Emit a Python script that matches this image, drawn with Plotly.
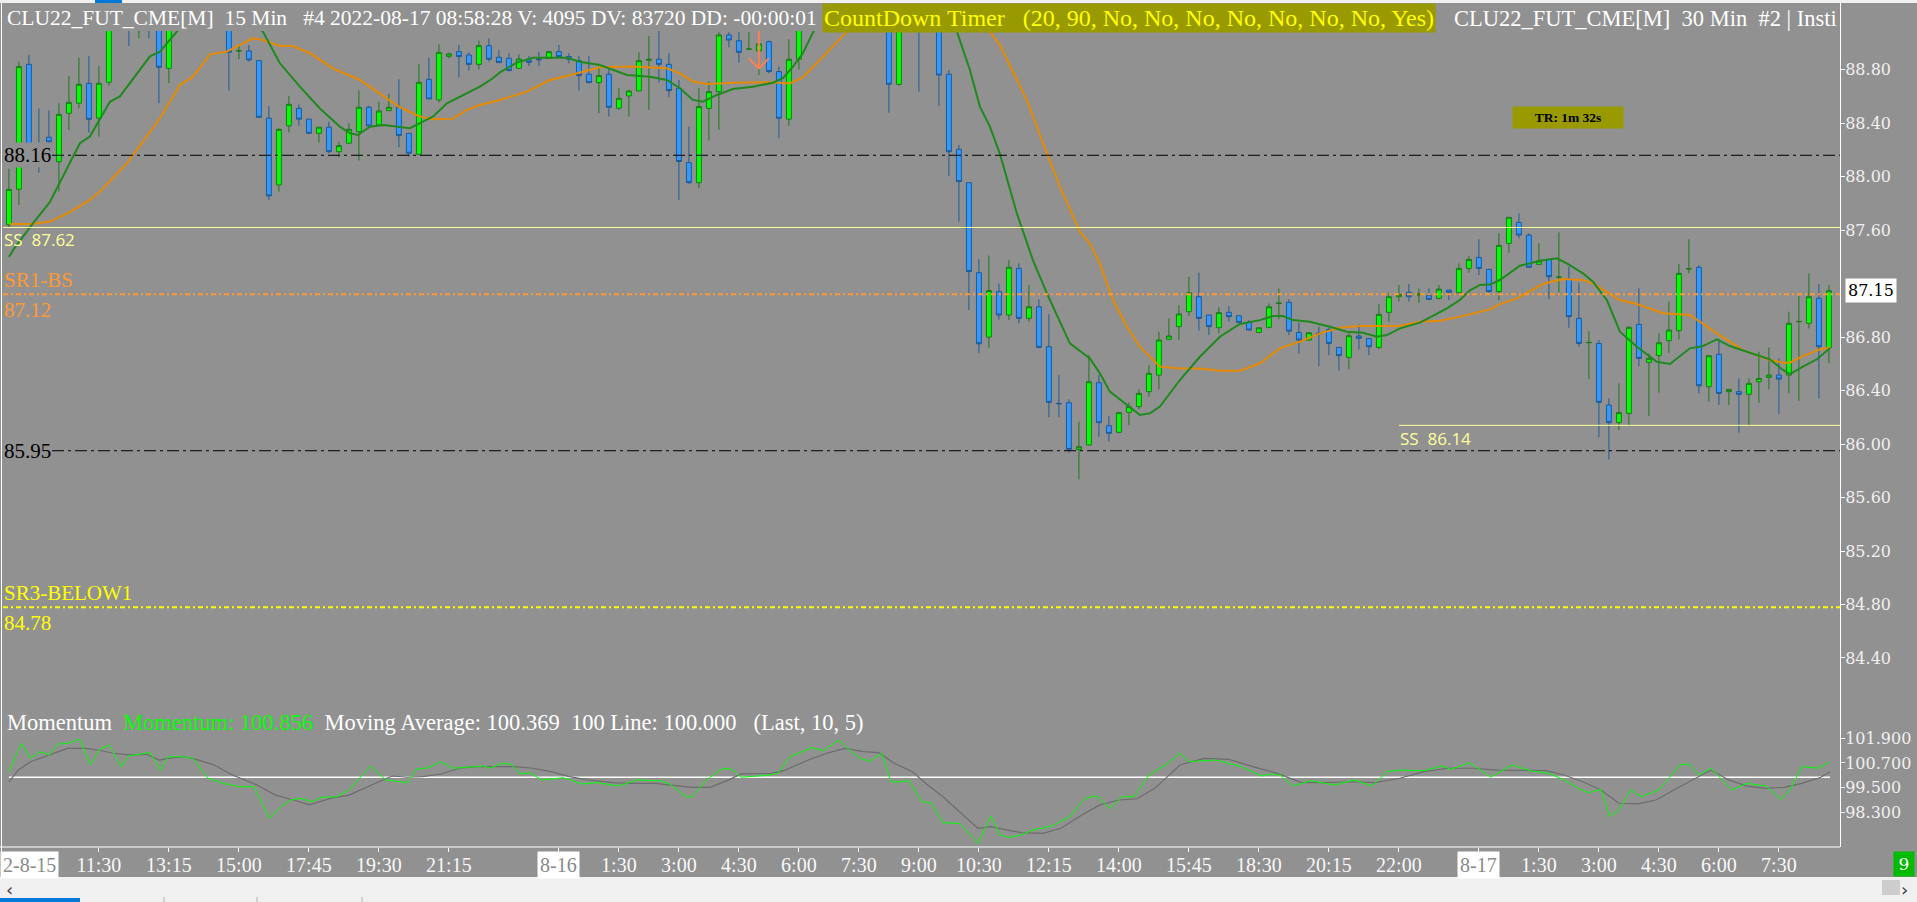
import plotly.graph_objects as go

# ---------------- data ----------------
BAR = list(range(-9, 174))   # bar index, 0 = 11:30 on 8-15 (15-min bars)

OPEN = [87.64, 87.906, 88.84, 88.20, 88.295, 88.112, 88.474, 88.549, 88.698, 88.437,
        88.706, 89.25, 89.42, 89.30, 89.35, 89.22, 88.81, 89.20, 89.35, 89.28,
        89.33, 89.22, 89.18, 88.94, 88.94, 88.868, 88.437, 87.938, 88.38, 88.511,
        88.43, 88.324, 88.37, 88.187, 88.25, 88.337, 88.519, 88.387, 88.494, 88.519,
        88.324, 88.167, 88.728, 88.574, 88.90, 88.935, 88.91, 88.84, 88.98, 88.893,
        88.885, 88.81, 88.873, 88.88, 88.885, 88.935, 88.898, 88.868, 88.766, 88.703,
        88.766, 88.512, 88.604, 88.641, 88.87, 88.878, 88.84, 88.661, 88.105, 87.955,
        88.511, 88.636, 89.06, 89.017, 88.953, 88.94, 89.01, 88.786, 88.43, 88.878,
        89.20, 89.40, 89.65, 89.55, 89.70, 89.80, 89.60, 89.50, 89.40, 88.691,
        89.30, 89.25, 89.15, 89.20, 88.766, 88.205, 87.955, 87.282, 86.80, 87.14,
        86.965, 87.314, 86.94, 87.027, 86.728, 86.304, 86.309, 85.96, 85.993, 86.459,
        86.137, 86.088, 86.237, 86.28, 86.392, 86.516, 86.783, 86.878, 86.99, 87.102,
        86.965, 86.87, 86.985, 86.96, 86.91, 86.835, 86.873, 87.052, 87.06, 86.835,
        86.778, 86.83, 86.858, 86.723, 86.648, 86.808, 86.79, 86.723, 86.985, 87.102,
        87.135, 87.115, 87.11, 87.09, 87.152, 87.132, 87.314, 87.396, 87.307, 87.14,
        87.501, 87.658, 87.563, 87.344, 87.381, 87.247, 87.234, 86.94, 86.758, 86.753,
        86.292, 86.16, 86.229, 86.895, 86.611, 86.661, 86.773, 86.848, 87.309, 87.322,
        86.429, 86.671, 86.392, 86.392, 86.372, 86.466, 86.499, 86.516, 86.516, 86.915,
        86.903, 87.09, 86.72]

HIGH = [88.06, 88.86, 88.91, 88.51, 88.494, 88.549, 88.753, 88.89, 88.903, 88.828,
        89.30, 89.50, 89.50, 89.40, 89.42, 89.28, 89.25, 89.40, 89.45, 89.40,
        89.38, 89.30, 89.25, 88.985, 88.985, 88.87, 88.529, 88.362, 88.604, 88.54,
        88.43, 88.37, 88.412, 88.262, 88.40, 88.644, 88.53, 88.56, 88.619, 88.728,
        88.324, 88.843, 88.89, 88.99, 88.928, 88.985, 88.93, 89.017, 89.035, 88.947,
        88.923, 88.915, 88.903, 88.935, 88.94, 88.985, 88.923, 88.903, 88.903, 88.823,
        88.81, 88.661, 88.649, 88.93, 89.052, 89.15, 88.923, 88.723, 88.374, 88.661,
        88.711, 89.08, 89.08, 89.08, 89.08, 89.08, 89.018, 88.823, 89.027, 89.25,
        89.45, 89.70, 89.80, 89.75, 89.90, 89.85, 89.75, 89.60, 89.45, 89.35,
        89.45, 89.35, 89.30, 89.25, 88.798, 88.237, 87.955, 87.382, 87.41, 87.20,
        87.376, 87.351, 87.19, 87.082, 86.972, 86.516, 86.334, 86.167, 86.666, 86.516,
        86.21, 86.235, 86.31, 86.409, 86.591, 86.84, 86.94, 87.04, 87.252, 87.282,
        86.965, 87.022, 87.032, 86.96, 86.928, 86.87, 87.052, 87.164, 87.082, 86.908,
        86.833, 86.878, 86.87, 86.723, 86.833, 86.895, 86.79, 87.047, 87.132, 87.19,
        87.197, 87.164, 87.164, 87.19, 87.152, 87.351, 87.406, 87.531, 87.307, 87.576,
        87.696, 87.725, 87.576, 87.501, 87.381, 87.583, 87.327, 87.207, 86.845, 86.778,
        86.342, 86.454, 86.883, 87.164, 86.678, 86.828, 87.065, 87.347, 87.531, 87.339,
        86.661, 86.783, 86.409, 86.491, 86.491, 86.691, 86.723, 86.641, 86.99, 87.107,
        87.277, 87.197, 87.19]

LOW = [87.62, 87.789, 88.17, 88.03, 88.20, 87.888, 88.349, 88.51, 88.33, 88.30,
       88.68, 89.20, 88.977, 89.035, 89.035, 88.549, 88.70, 89.15, 89.20, 89.18,
       89.15, 89.12, 88.643, 88.878, 88.86, 88.44, 87.826, 87.888, 88.33, 88.38,
       88.324, 88.255, 88.175, 88.145, 88.25, 88.12, 88.374, 88.38, 88.49, 88.22,
       88.15, 88.167, 88.58, 88.554, 88.885, 88.743, 88.793, 88.803, 88.86, 88.85,
       88.79, 88.81, 88.828, 88.828, 88.88, 88.895, 88.848, 88.644, 88.70, 88.474,
       88.449, 88.50, 88.449, 88.641, 88.50, 88.703, 88.594, 87.826, 87.946, 87.913,
       88.27, 88.35, 88.968, 88.853, 88.95, 88.76, 88.773, 88.287, 88.38, 88.80,
       89.15, 89.35, 89.50, 89.45, 89.60, 89.55, 89.45, 89.30, 88.479, 88.68,
       89.20, 88.636, 89.10, 88.529, 88.005, 87.664, 87.003, 86.68, 86.72, 86.93,
       86.928, 86.903, 86.915, 86.716, 86.20, 86.20, 85.935, 85.736, 85.99, 86.055,
       86.018, 86.08, 86.142, 86.26, 86.354, 86.409, 86.778, 86.778, 86.958, 86.848,
       86.815, 86.828, 86.915, 86.91, 86.848, 86.835, 86.865, 86.933, 86.815, 86.678,
       86.773, 86.584, 86.666, 86.549, 86.559, 86.708, 86.666, 86.708, 86.915, 87.065,
       87.065, 87.057, 87.077, 87.082, 87.077, 87.127, 87.282, 87.264, 87.132, 87.077,
       87.431, 87.538, 87.322, 87.339, 87.085, 87.135, 86.87, 86.728, 86.486, 86.05,
       85.886, 86.105, 86.142, 86.584, 86.21, 86.384, 86.683, 86.783, 87.277, 86.379,
       86.317, 86.292, 86.292, 86.085, 86.142, 86.309, 86.409, 86.225, 86.379, 86.324,
       86.865, 86.342, 86.604]

CLOSE = [87.905, 88.823, 88.20, 88.12, 88.26, 88.466, 88.556, 88.691, 88.429, 88.698,
         89.25, 89.42, 89.30, 89.35, 89.22, 88.818, 89.20, 89.35, 89.28, 89.33,
         89.22, 89.18, 88.93, 88.942, 88.873, 88.444, 87.856, 88.354, 88.541, 88.43,
         88.324, 88.37, 88.187, 88.232, 88.354, 88.519, 88.379, 88.491, 88.519, 88.307,
         88.175, 88.706, 88.581, 88.93, 88.918, 88.898, 88.84, 88.98, 88.878, 88.853,
         88.793, 88.88, 88.855, 88.875, 88.935, 88.898, 88.878, 88.756, 88.703, 88.756,
         88.519, 88.586, 88.641, 88.868, 88.878, 88.84, 88.644, 88.113, 87.955, 88.524,
         88.636, 89.06, 89.022, 88.93, 88.955, 88.993, 88.786, 88.437, 88.878, 89.20,
         89.40, 89.65, 89.55, 89.70, 89.80, 89.60, 89.50, 89.40, 88.691, 89.30,
         89.25, 89.15, 89.20, 88.76, 88.187, 87.963, 87.29, 86.75, 87.148, 86.965,
         87.322, 86.94, 87.027, 86.723, 86.312, 86.302, 85.96, 85.98, 86.466, 86.16,
         86.08, 86.235, 86.28, 86.379, 86.529, 86.778, 86.808, 86.973, 87.132, 86.94,
         86.878, 86.983, 86.953, 86.91, 86.853, 86.87, 87.027, 87.054, 86.845, 86.778,
         86.833, 86.826, 86.753, 86.661, 86.81, 86.791, 86.728, 86.97, 87.102, 87.12,
         87.102, 87.122, 87.082, 87.159, 87.135, 87.314, 87.381, 87.314, 87.14, 87.486,
         87.696, 87.563, 87.322, 87.369, 87.252, 87.249, 86.953, 86.753, 86.760, 86.312,
         86.16, 86.235, 86.873, 86.641, 86.641, 86.758, 86.853, 87.277, 87.312, 86.436,
         86.661, 86.379, 86.409, 86.372, 86.454, 86.491, 86.516, 86.486, 86.903, 86.917,
         87.102, 86.728, 87.147]

# fast moving average (green)
MA_FAST_X = [-9, -8.5, -6.6, -4.9, -1.9, -0.9, 1.1, 2.1, 5.1, 6.1,
             7.8, 10, 12, 14, 16.4, 18.1, 20.1, 22.1, 24.1, 25.1,
             25.9, 27.1, 28.5, 29.8, 31.1, 32.4, 33.4, 34.8, 36.1, 38.1,
             39.4, 40.1, 41.8, 43.4, 46.8, 48.1, 50.1, 52.8, 55.1, 56.8,
             58.1, 59.4, 60.4, 61.8, 63.4, 65.4, 67.4, 68.4, 69.4, 70.4,
             71.4, 74, 78, 82, 84.5, 85.8, 87.1, 88.1, 89.1, 90.1,
             91.8, 93.4, 94.8, 97.1, 99.1, 100.1, 101.1, 102.8, 104.1, 105.1,
             106.1, 108.1, 110.1, 112.1, 114.1, 116.1, 117.4, 118.4, 119.4, 121.1,
             123.1, 124.8, 126.4, 127.8, 128.8, 130.1, 132.1, 133.4, 134.8, 136.1,
             137.1, 138.1, 139.1, 140.1, 142.1, 144.1, 145.8, 146.8, 148.4, 149.4,
             150.8, 152.1, 153.8, 155.8, 157.1, 159.1, 160.4, 161.8, 163.1, 165.1,
             167.1, 168.4, 169.1, 170.4, 171.8, 173.1]
MA_FAST_Y = [87.40, 87.46, 87.65, 87.81, 88.25, 88.30, 88.56, 88.60, 88.90, 88.935,
             89.085, 89.25, 89.30, 89.25, 89.085, 88.848, 88.673, 88.51, 88.374, 88.324,
             88.312, 88.374, 88.387, 88.374, 88.362, 88.412, 88.449, 88.549, 88.60, 88.673,
             88.736, 88.78, 88.853, 88.89, 88.89, 88.86, 88.835, 88.761, 88.748, 88.723,
             88.661, 88.574, 88.561, 88.611, 88.656, 88.673, 88.703, 88.736, 88.823, 88.923,
             89.077, 89.40, 89.60, 89.50, 89.25, 89.085, 88.798, 88.524, 88.374, 88.17,
             87.725, 87.376, 87.127, 86.753, 86.641, 86.529, 86.392, 86.292, 86.217, 86.23,
             86.28, 86.479, 86.653, 86.803, 86.898, 86.927, 86.957, 86.957, 86.927, 86.915,
             86.878, 86.84, 86.833, 86.803, 86.815, 86.865, 86.908, 86.958, 87.015, 87.077,
             87.15, 87.19, 87.193, 87.227, 87.334, 87.371, 87.389, 87.351, 87.277, 87.214,
             87.077, 86.84, 86.728, 86.616, 86.599, 86.716, 86.733, 86.783, 86.733, 86.683,
             86.634, 86.554, 86.524, 86.579, 86.634, 86.716]

# slow moving average (orange)
MA_SLOW_X = [-8.9, -6.6, -4.9, -3.0, -0.9, 0.1, 2.8, 6.1, 8.1, 9.4,
             11.1, 12.8, 14.1, 15.4, 16.4, 18.1, 19.4, 21.1, 23.4, 26.1,
             27.8, 30.1, 32.1, 33.4, 35.4, 36.8, 38.1, 40.1, 42.8, 45.1,
             46.8, 48.5, 50.1, 53.4, 56.8, 58.1, 59.4, 60.8, 63.4, 66.8,
             69.1, 70.4, 72.1, 74.8, 78, 82, 86, 89.1, 90.1, 92.8,
             94.8, 96.1, 98.1, 99.1, 100.1, 101.4, 102.8, 104.1, 106.1, 108.1,
             110.1, 112.1, 114.1, 116.1, 118.1, 120.1, 122.1, 124.1, 126.1, 128.1,
             130.1, 132.1, 134.1, 136.1, 138.1, 139.1, 140.1, 141.8, 144.4, 146.4,
             148.4, 149.4, 152.1, 153.8, 156.4, 159.1, 161.8, 164.4, 167.1, 168.4,
             169.1, 170.4, 172.1, 173.1]
MA_SLOW_Y = [87.646, 87.646, 87.664, 87.731, 87.826, 87.888, 88.10, 88.437, 88.686, 88.748,
             88.915, 88.935, 88.985, 89.035, 89.022, 88.977, 88.977, 88.923, 88.81, 88.723,
             88.636, 88.519, 88.449, 88.429, 88.434, 88.499, 88.536, 88.574, 88.636, 88.723,
             88.753, 88.786, 88.818, 88.823, 88.81, 88.773, 88.711, 88.693, 88.703, 88.706,
             88.698, 88.743, 88.873, 89.085, 89.30, 89.40, 89.30, 89.085, 88.985, 88.573,
             88.174, 87.925, 87.588, 87.50, 87.351, 87.077, 86.878, 86.728, 86.579, 86.566,
             86.566, 86.549, 86.549, 86.604, 86.716, 86.766, 86.828, 86.87, 86.883, 86.883,
             86.883, 86.915, 86.923, 86.953, 86.99, 87.007, 87.047, 87.09, 87.197, 87.234,
             87.227, 87.202, 87.077, 87.047, 86.978, 86.965, 86.828, 86.703, 86.629, 86.609,
             86.609, 86.658, 86.708, 86.723]

# momentum panel
MOM_X = [-9.0, -7.75, -6.83, -5.91, -4.99, -4.07, -3.15, -1.93, -0.83, 0.03,
         1.01, 2.23, 2.97, 5.11, 6.15, 6.95, 8.48, 9.4, 10.93, 12.46,
         13.99, 15.52, 17.05, 18.28, 19.2, 20.12, 21.34, 22.26, 23.79, 25.01,
         27.16, 28.69, 30.83, 31.75, 32.98, 34.2, 35.43, 36.65, 38.49, 39.1,
         40.32, 41.24, 42.16, 43.08, 44.3, 46.45, 48.29, 49.82, 51.96, 53.8,
         56.25, 57.16, 58.7, 59.31, 60.84, 62.37, 63.29, 64.21, 66.66, 67.88,
         69.11, 71.25, 72.47, 74.0, 75.23, 76.15, 77.07, 78.29, 79.21, 80.13,
         81.05, 82.27, 83.19, 84.41, 86.1, 87.0, 87.9, 89.2, 90.1, 91.0,
         92.2, 93.4, 95.3, 97.1, 98.6, 99.8, 101.1, 102.3, 103.5, 105.0,
         106.9, 108.1, 109.0, 111.7, 114.2, 116.3, 117.2, 118.1, 119.4, 121.2,
         123.6, 125.5, 127.3, 128.8, 130.1, 132.5, 134.3, 135.2, 137.1, 139.2,
         141.3, 143.2, 145.0, 146.5, 148.1, 149.0, 150.2, 151.1, 152.0, 153.2,
         154.2, 156.0, 158.1, 159.0, 160.0, 161.2, 163.3, 164.8, 166.7, 168.2,
         169.1, 170.3, 171.9, 173.1]
MOM_Y = [100.27, 101.65, 100.92, 101.25, 101.09, 101.62, 101.65, 101.85, 100.60, 101.36,
         101.57, 100.52, 101.04, 101.20, 100.35, 101.00, 101.00, 100.92, 99.95, 99.70,
         99.54, 99.54, 98.00, 98.60, 98.89, 98.97, 98.81, 99.02, 99.05, 99.38,
         100.55, 99.87, 99.74, 100.39, 100.47, 100.76, 100.44, 100.47, 100.55, 100.44,
         100.68, 100.63, 100.16, 100.22, 99.87, 99.98, 99.67, 99.74, 99.57, 99.87,
         99.82, 99.65, 99.05, 99.05, 99.90, 100.44, 100.39, 100.00, 100.09, 100.19,
         101.00, 101.44, 101.30, 101.82, 101.25, 100.92, 100.79, 101.17, 99.78, 99.78,
         99.83, 98.81, 98.76, 97.78, 97.75, 97.26, 96.78, 98.11, 97.18, 97.07,
         97.18, 97.43, 97.62, 98.08, 98.97, 99.09, 98.48, 99.05, 99.05, 100.11,
         100.68, 101.17, 100.76, 100.84, 100.52, 100.06, 100.16, 100.11, 99.57, 99.83,
         99.62, 99.87, 99.57, 100.27, 100.35, 100.32, 100.55, 100.39, 100.71, 100.00,
         100.60, 100.31, 100.19, 99.87, 99.41, 99.25, 99.41, 98.08, 98.40, 99.38,
         99.05, 99.38, 100.60, 100.65, 100.11, 100.44, 99.38, 99.70, 99.57, 98.92,
         99.38, 100.52, 100.44, 100.76]

MOM_MA_X = [-9.0, -8.06, -6.83, -4.99, -3.15, -1.3, -0.1, 1.43, 2.97, 4.81,
            6.03, 6.95, 8.48, 9.7, 11.53, 13.37, 15.82, 17.66, 19.49, 21.03,
            23.17, 25.01, 26.85, 29.3, 30.83, 32.36, 34.2, 36.04, 37.88, 39.71,
            41.55, 43.38, 45.22, 47.05, 48.89, 51.34, 53.18, 55.63, 57.47, 59.31,
            61.14, 62.98, 64.21, 67.27, 68.49, 70.94, 72.78, 74.61, 76.45, 77.98,
            79.52, 81.35, 82.88, 84.41, 86.1, 87.9, 89.2, 91.0, 92.2, 94.4,
            96.2, 98.3, 100.1, 102.0, 103.8, 105.6, 108.1, 110.5, 113.0, 115.4,
            117.8, 120.3, 122.7, 125.2, 127.6, 130.1, 132.5, 134.9, 137.4, 139.8,
            142.3, 144.7, 146.5, 148.4, 150.2, 152.0, 153.9, 155.7, 157.5, 159.3,
            161.2, 163.0, 164.8, 166.7, 168.5, 170.3, 172.2, 173.1]
MOM_MA_Y = [99.78, 100.35, 100.76, 101.09, 101.41, 101.41, 101.33, 101.17, 101.09, 101.12,
            100.84, 100.92, 101.00, 100.87, 100.60, 100.11, 99.62, 99.13, 98.89, 98.65,
            98.97, 99.13, 99.54, 100.06, 100.00, 100.03, 100.16, 100.44, 100.52, 100.52,
            100.52, 100.44, 100.27, 100.03, 99.87, 99.74, 99.70, 99.70, 99.62, 99.51,
            99.51, 99.87, 100.16, 100.19, 100.32, 100.84, 101.17, 101.41, 101.25, 101.20,
            100.68, 100.27, 99.62, 99.05, 98.30, 97.51, 97.59, 97.43, 97.30, 97.26,
            97.51, 98.16, 98.65, 98.89, 98.95, 99.46, 100.60, 100.92, 100.87, 100.52,
            100.19, 99.74, 99.74, 99.78, 99.74, 99.95, 100.27, 100.44, 100.44, 100.35,
            100.35, 100.32, 100.11, 99.78, 99.38, 98.73, 98.70, 98.89, 99.38, 99.87,
            100.35, 99.87, 99.57, 99.46, 99.51, 99.70, 100.00, 100.27]
MOM_LINE_LEVEL = 100.0

# horizontal levels
PIVOT_LEVELS = [88.16, 85.95]          # black dash-dot
SS_UPPER, SS_LOWER = 87.62, 86.14     # light-yellow solid
SR1_BS, SR3_BELOW1 = 87.12, 84.78     # dotted
LAST_PRICE = 87.15
SIGNAL_BAR, SIGNAL_PRICE = 66, 88.81  # orange down arrow

# x-axis labels
TIME_TICK_BARS = [0, 7, 14, 21, 28, 35, 52, 58, 64, 70, 76, 82, 88, 95, 102, 109,
                  116, 123, 130, 144, 150, 156, 162, 168]
TIME_TICK_TEXT = ["11:30", "13:15", "15:00", "17:45", "19:30", "21:15", "1:30", "3:00",
                  "4:30", "6:00", "7:30", "9:00", "10:30", "12:15", "14:00", "15:45",
                  "18:30", "20:15", "22:00", "1:30", "3:00", "4:30", "6:00", "7:30"]
DATE_BARS = [46, 138]
DATE_TEXT = ["8-16", "8-17"]
FIRST_DATE_TEXT = "2-8-15"

PRICE_TICKS = [88.8, 88.4, 88.0, 87.6, 86.8, 86.4, 86.0, 85.6, 85.2, 84.8, 84.4]
MOM_TICKS = [101.9, 100.7, 99.5, 98.3]

# ---------------- layout geometry ----------------
W, H = 1917, 902
PL, PR, PT, PB = 3, 1840, 31, 847
PRICE_BOTTOM_PX, MOM_TOP_PX = 715, 725


def fx(px):
    return (px - PL) / (PR - PL)


def fy(py):
    return (PB - py) / (PB - PT)


def price_at(py):
    return 88.8 - (py - 69.7) / 133.7


def mom_at(py):
    return 101.9 - (py - 738.3) / 20.5


BG = "#919191"
UP_FILL, UP_LINE = "#00ff00", "#1b7a1b"
DN_FILL, DN_LINE = "#3399ff", "#1d5b96"
SERIF = "Liberation Serif"
AXFONT = "DejaVu Serif"

fig = go.Figure()

fig.add_trace(go.Candlestick(
    x=BAR, open=OPEN, high=HIGH, low=LOW, close=CLOSE, xaxis="x", yaxis="y",
    increasing=dict(fillcolor=UP_FILL, line=dict(color=UP_LINE, width=1)),
    decreasing=dict(fillcolor=DN_FILL, line=dict(color=DN_LINE, width=1)),
    whiskerwidth=0, hoverinfo="skip", showlegend=False))

fig.add_trace(go.Scatter(x=MA_SLOW_X, y=MA_SLOW_Y, mode="lines", yaxis="y",
                         line=dict(color="#e68a00", width=2), hoverinfo="skip", showlegend=False))
fig.add_trace(go.Scatter(x=MA_FAST_X, y=MA_FAST_Y, mode="lines", yaxis="y",
                         line=dict(color="#1e8a1e", width=2), hoverinfo="skip", showlegend=False))

# orange signal arrow (shaft + chevron)
fig.add_trace(go.Scatter(
    x=[SIGNAL_BAR, SIGNAL_BAR, None, SIGNAL_BAR - 1, SIGNAL_BAR, SIGNAL_BAR + 1],
    y=[price_at(PT), SIGNAL_PRICE, None, SIGNAL_PRICE + 0.075, SIGNAL_PRICE, SIGNAL_PRICE + 0.075],
    mode="lines", yaxis="y", line=dict(color="#ff7f50", width=2),
    hoverinfo="skip", showlegend=False))

# momentum panel
fig.add_trace(go.Scatter(x=[MOM_X[0], MOM_X[-1]], y=[MOM_LINE_LEVEL, MOM_LINE_LEVEL], mode="lines",
                         yaxis="y2", line=dict(color="#ffffff", width=1.5),
                         hoverinfo="skip", showlegend=False))
fig.add_trace(go.Scatter(x=MOM_MA_X, y=MOM_MA_Y, mode="lines", yaxis="y2",
                         line=dict(color="#6c6c6c", width=1.2), hoverinfo="skip", showlegend=False))
fig.add_trace(go.Scatter(x=MOM_X, y=MOM_Y, mode="lines", yaxis="y2",
                         line=dict(color="#00ff00", width=1), hoverinfo="skip", showlegend=False))

# ---------------- shapes ----------------
shapes = []
for lv in PIVOT_LEVELS:
    shapes.append(dict(type="line", xref="paper", yref="y", x0=fx(52), x1=1, y0=lv, y1=lv,
                       line=dict(color="#000000", width=1, dash="12px,4px,3px,4px"), layer="above"))
shapes.append(dict(type="line", xref="paper", yref="y", x0=0, x1=1, y0=SS_UPPER, y1=SS_UPPER,
                   line=dict(color="#ffff99", width=1), layer="above"))
shapes.append(dict(type="line", xref="paper", yref="y", x0=fx(1399), x1=1, y0=SS_LOWER, y1=SS_LOWER,
                   line=dict(color="#ffff99", width=1), layer="above"))
shapes.append(dict(type="line", xref="paper", yref="y", x0=0, x1=1, y0=SR1_BS, y1=SR1_BS,
                   line=dict(color="#ff9933", width=2, dash="5px,3px,2px,3px"), layer="above"))
shapes.append(dict(type="line", xref="paper", yref="y", x0=0, x1=1, y0=SR3_BELOW1, y1=SR3_BELOW1,
                   line=dict(color="#ffff00", width=2, dash="5px,3px,2px,3px"), layer="above"))


def rect(x0, y0, x1, y1, color):
    return dict(type="rect", xref="paper", yref="paper", x0=fx(x0), x1=fx(x1), y0=fy(y0), y1=fy(y1),
                fillcolor=color, line=dict(width=0), layer="above")


def vline(x, y0, y1, color, w=1):
    return dict(type="line", xref="paper", yref="paper", x0=fx(x), x1=fx(x), y0=fy(y0), y1=fy(y1),
                line=dict(color=color, width=w), layer="above")


def hline(y, x0, x1, color, w=1):
    return dict(type="line", xref="paper", yref="paper", x0=fx(x0), x1=fx(x1), y0=fy(y), y1=fy(y),
                line=dict(color=color, width=w), layer="above")


shapes += [
    rect(0, 0, W, 3, "#f0f0f0"),
    rect(95, 0, 122, 3, "#0078d7"),
    vline(PR + 0.5, 3, PB, "#ffffff"),
    vline(1.5, 3, 877, "#ffffff"),
    hline(PB, 0, PR, "#ffffff"),
    rect(0, 877, W, H, "#f0f0f0"),
    rect(1882, 880, 1900, 895, "#cdcdcd"),
    rect(0, 898, 80, H, "#0078d7"),
    vline(164, 897, H, "#b0b0b0"),
    vline(257, 897, H, "#b0b0b0"),
    vline(362, 897, H, "#b0b0b0"),
]

# ---------------- annotations ----------------
NB = "\u00a0"
ann = []


def text(x, y, s, color, size, family=SERIF, xanchor="left", bg=None, pad=0, xref="paper", yref="paper", **kw):
    d = dict(x=x, y=y, xref=xref, yref=yref, text=s, showarrow=False, xanchor=xanchor, yanchor="middle",
             font=dict(family=family, size=size, color=color), borderpad=pad, **kw)
    if bg:
        d["bgcolor"] = bg
    ann.append(d)


# header
text(fx(6), fy(18), f"CLU22_FUT_CME[M]{NB}{NB}15 Min{NB}{NB}{NB}#4 2022-08-17 08:58:28 V: 4095 DV: 83720 DD: -00:00:01",
     "#ffffff", 21.5)
text(fx(822), fy(18), f"CountDown Timer{NB}{NB}{NB}(20, 90, No, No, No, No, No, No, No, Yes)",
     "#ffff00", 24, bg="#999900", pad=1)
text(fx(1453), fy(18), f"CLU22_FUT_CME[M]{NB}{NB}30 Min{NB}{NB}#2 | Insti", "#ffffff", 22.5)

# level labels
text(fx(3), PIVOT_LEVELS[0], "88.16", "#000000", 21, bg=BG, yref="y")
text(fx(3), PIVOT_LEVELS[1], "85.95", "#000000", 21, bg=BG, yref="y")
text(fx(3), fy(240), f"SS{NB}{NB}87.62", "#ffff99", 17, family="Open Sans")
text(fx(3), fy(280), "SR1-BS", "#ff9933", 21)
text(fx(3), fy(310), "87.12", "#ff9933", 21)
text(fx(3), fy(593), "SR3-BELOW1", "#ffff00", 21)
text(fx(3), fy(623), "84.78", "#ffff00", 21)
text(fx(1399), fy(438), f"SS{NB}{NB}86.14", "#ffff99", 17, family="Open Sans")

# timer box
ann.append(dict(x=fx(1568), y=fy(118), xref="paper", yref="paper", text="<b>TR: 1m 32s</b>",
                showarrow=False, xanchor="center", yanchor="middle", width=108, height=19,
                bgcolor="#999900", font=dict(family=SERIF, size=13.5, color="#000000")))

# last price marker
text(fx(1845), LAST_PRICE, "87.15", "#000000", 16, family=AXFONT, bg="#ffffff", pad=2, yref="y")

# momentum title
text(fx(6), fy(722),
     f"Momentum{NB}{NB}<span style='color:#00ff00'>Momentum: 100.856</span>{NB}{NB}Moving Average: 100.369"
     f"{NB}{NB}100 Line: 100.000{NB}{NB}{NB}(Last, 10, 5)", "#ffffff", 22.5)

# date labels on the x axis
for b, s in zip(DATE_BARS, DATE_TEXT):
    text(b, fy(865), s, "#8a8a8a", 20, xanchor="center", bg="#ffffff", pad=2, xref="x")
text(fx(0), fy(865), FIRST_DATE_TEXT, "#8a8a8a", 20, bg="#ffffff", pad=2)

# bar counter box
text(fx(1904), fy(864), "9", "#ffffff", 17, family=AXFONT, xanchor="center", bg="#00bb00",
     width=20, height=24)

# scroll arrows
text(fx(5), fy(889), "‹", "#404040", 18, family="DejaVu Sans")
text(fx(1904), fy(889), "›", "#404040", 18, family="DejaVu Sans", xanchor="center")

# ---------------- axes ----------------
tickvals = sorted(TIME_TICK_BARS + DATE_BARS)
lab = dict(zip(TIME_TICK_BARS, TIME_TICK_TEXT))
ticktext = [lab.get(v, "") for v in tickvals]

fig.update_layout(
    width=W, height=H, autosize=False,
    margin=dict(l=PL, r=W - PR, t=PT, b=H - PB, pad=0),
    paper_bgcolor=BG, plot_bgcolor=BG,
    showlegend=False, hovermode=False,
    xaxis=dict(range=[(PL - 98.9) / 10, (PR - 98.9) / 10], anchor="y2", domain=[0, 1],
               tickvals=tickvals, ticktext=ticktext, ticks="outside", ticklen=4, tickcolor="#ffffff",
               ticklabelstandoff=-4,
               tickfont=dict(family=SERIF, size=20, color="#f8f8f8"),
               showgrid=False, zeroline=False, showline=False,
               rangeslider=dict(visible=False), fixedrange=True),
    yaxis=dict(domain=[fy(PRICE_BOTTOM_PX), 1], range=[price_at(PRICE_BOTTOM_PX), price_at(PT)],
               side="right", anchor="x", tickvals=PRICE_TICKS, ticktext=[f"{v:.2f}" for v in PRICE_TICKS],
               ticks="outside", ticklen=4, tickcolor="#ffffff", ticklabelstandoff=-3,
               tickfont=dict(family=AXFONT, size=16, color="#f0f0f0"),
               showgrid=False, zeroline=False, showline=False, fixedrange=True),
    yaxis2=dict(domain=[0, fy(MOM_TOP_PX)], range=[mom_at(PB), mom_at(MOM_TOP_PX)],
                side="right", anchor="x", tickvals=MOM_TICKS, ticktext=[f"{v:.3f}" for v in MOM_TICKS],
                ticks="outside", ticklen=4, tickcolor="#ffffff", ticklabelstandoff=-3,
                tickfont=dict(family=AXFONT, size=16, color="#f0f0f0"),
                showgrid=False, zeroline=False, showline=False, fixedrange=True),
    shapes=shapes, annotations=ann,
)

fig.write_html("out.html", config={"displayModeBar": False},
               post_script="document.body.style.margin='0';document.body.style.overflow='hidden';")
